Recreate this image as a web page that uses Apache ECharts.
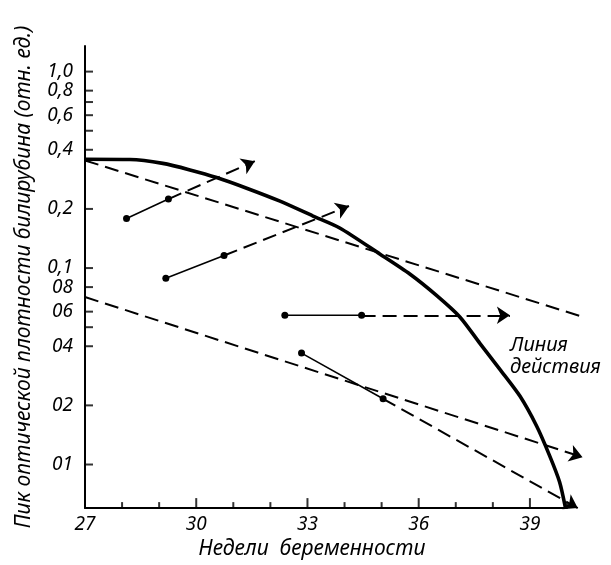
<!DOCTYPE html>
<html><head><meta charset="utf-8">
<script src="https://cdn.jsdelivr.net/npm/echarts@6/dist/echarts.min.js"></script>
<style>html,body{margin:0;padding:0;background:#fff}#c{width:611px;height:565px}</style>
</head><body><div id="c"></div>
<script>
// ---- axis ticks / labels ----
const xLabelValues = [27,30,33,36,39];
const xMajorTicks  = [30,33,36,39];
const xMinorTicks  = [28,29,31,32,34,35,37,38,40];
const yLabelValues = [1.0,0.8,0.6,0.4,0.2,0.1,0.08,0.06,0.04,0.02,0.01];
const yLabelTexts  = ['1,0','0,8','0,6','0,4','0,2','0,1','08','06','04','02','01'];
const yTickValues  = [1.0,0.8,0.7,0.6,0.5,0.4,0.2,0.1,0.08,0.06,0.05,0.04,0.02,0.01];
const X_MIN = 27, Y_MIN = 0.006;

// ---- "Линия действия" (action line) ----
const curveWeeks  = [27.0,28.21,29.10,29.83,30.55,31.36,32.26,33.15,33.87,34.95,35.76,36.48,37.11,37.65,38.19,38.73,39.18,39.53,39.80,39.96];
const curveValues = [0.358,0.357,0.341,0.316,0.289,0.255,0.219,0.184,0.160,0.118,0.0933,0.0726,0.0564,0.0414,0.0305,0.0223,0.0157,0.0111,0.00815,0.006];

// ---- dashed zone lines ----
const upperZoneWeeks  = [27, 40.34];
const upperZoneValues = [0.353, 0.0571];
const lowerZoneWeeks  = [27, 40.42];
const lowerZoneValues = [0.0712, 0.0109];

// ---- patient trajectories: two measured points, then projected end ----
const traj1Weeks = [28.12, 29.25, 31.58]; const traj1Values = [0.1786, 0.2245, 0.350];
const traj2Weeks = [29.18, 30.75, 34.12]; const traj2Values = [0.0887, 0.1159, 0.207];
const traj3Weeks = [32.39, 34.46, 38.46]; const traj3Values = [0.0575, 0.0575, 0.0575];
const traj4Weeks = [32.84, 35.04, 40.29]; const traj4Values = [0.0369, 0.0216, 0.006];

const zip = (a, b) => a.map((v, i) => [v, b[i]]);
const FONT = 'Noto Sans';
const trajs = [[traj1Weeks,traj1Values],[traj2Weeks,traj2Values],[traj3Weeks,traj3Values],[traj4Weeks,traj4Values]];
const DASH = {color:'#000', width:2, type:[14,7], opacity:1, curveness:0};

const series = [
  { type:'line', data: zip(curveWeeks, curveValues), smooth:0.25, showSymbol:false, symbol:'none',
    lineStyle:{color:'#000', width:3.6, join:'round'} },
  { type:'lines', coordinateSystem:'cartesian2d', clip:false, symbol:['none','none'],
    lineStyle:DASH, data:[{coords: zip(upperZoneWeeks, upperZoneValues)}] },
  { type:'lines', coordinateSystem:'cartesian2d', clip:false, symbol:['none','arrow'], symbolSize:[9,13],
    lineStyle:DASH, itemStyle:{color:'#000'},
    data: [{coords: zip(lowerZoneWeeks, lowerZoneValues)}].concat(
      trajs.map(t => ({coords: [[t[0][1], t[1][1]], [t[0][2], t[1][2]]]}))) },
  // axis tick marks, placed through the axes' own scales
  { type:'scatter', silent:true, clip:false, symbol:'rect', symbolSize:[8,2], symbolOffset:[4,0],
    itemStyle:{color:'#000'}, data: yTickValues.map(v => [X_MIN, v]) },
  { type:'scatter', silent:true, clip:false, symbol:'rect', symbolSize:[2,10], symbolOffset:[0,-5],
    itemStyle:{color:'#000'}, data: xMajorTicks.map(w => [w, Y_MIN]) },
  { type:'scatter', silent:true, clip:false, symbol:'rect', symbolSize:[2,6], symbolOffset:[0,-3],
    itemStyle:{color:'#000'}, data: xMinorTicks.map(w => [w, Y_MIN]) },
];
trajs.forEach(t => {
  series.push({ type:'line', data: zip(t[0].slice(0,2), t[1].slice(0,2)), symbol:'circle', symbolSize:7, showSymbol:true,
    itemStyle:{color:'#000'}, lineStyle:{color:'#000', width:1.6} });
});

const chart = echarts.init(document.getElementById('c'));
chart.setOption({
  animation:false,
  grid:{left:85, right:44, top:46, bottom:52},
  xAxis:{type:'value', min:X_MIN, max:40, interval:1,
    axisLine:{lineStyle:{color:'#000', width:2}},
    axisTick:{show:false},
    axisLabel:{customValues:xLabelValues, color:'#000', fontSize:19, fontStyle:'italic', fontFamily:FONT, margin:7},
    splitLine:{show:false},
    name:'Недели  беременности', nameLocation:'middle', nameGap:13,
    nameTextStyle:{color:'#000', fontSize:21, fontStyle:'italic', fontFamily:FONT, padding:[0,28,0,0]}
  },
  yAxis:{type:'log', logBase:10, min:Y_MIN, max:1.35,
    axisLine:{show:true, lineStyle:{color:'#000', width:2}},
    axisTick:{show:false},
    axisLabel:{customValues:yLabelValues, color:'#000', fontSize:19, fontStyle:'italic', fontFamily:FONT, margin:12,
      formatter: v => { for (let i=0;i<yLabelValues.length;i++){ if (Math.abs(Math.log(v)-Math.log(yLabelValues[i]))<1e-6) return yLabelTexts[i]; } return ''; } },
    splitLine:{show:false},
    name:'Пик оптической плотности билирубина (отн. ед.)', nameLocation:'middle', nameRotate:90, nameGap:50,
    nameTextStyle:{color:'#000', fontSize:21, fontStyle:'italic', fontFamily:FONT}
  },
  graphic:[{type:'text', left:510, top:334, style:{text:'Линия\nдействия', font:'italic 20px "Noto Sans"', fill:'#000', lineHeight:22}}],
  series: series
});
</script>
</body></html>
